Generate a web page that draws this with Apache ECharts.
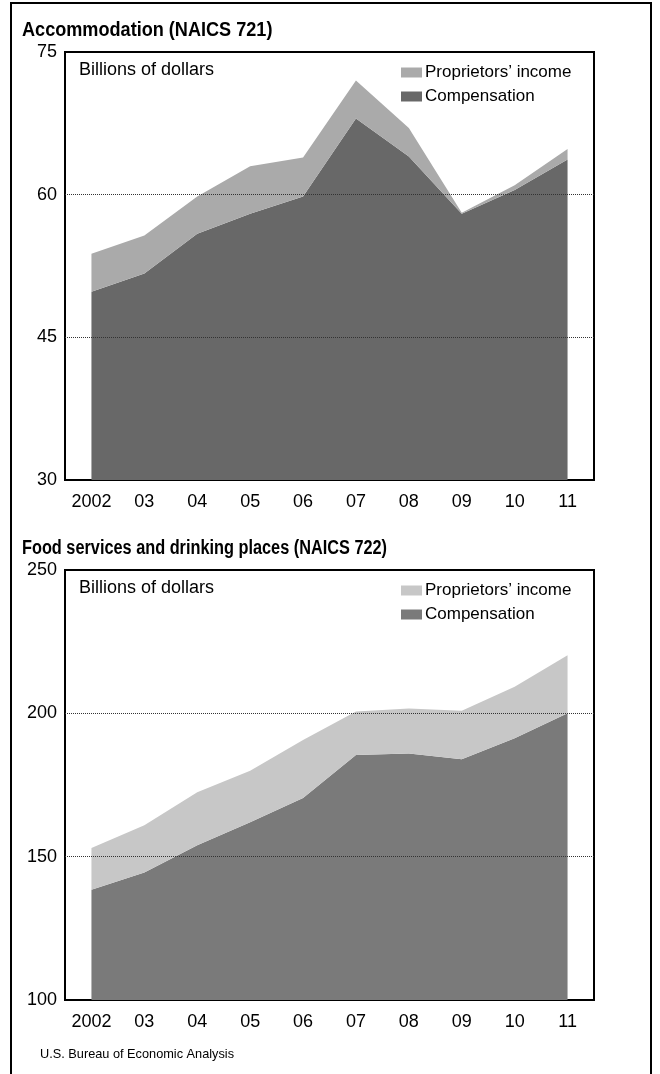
<!DOCTYPE html>
<html>
<head>
<meta charset="utf-8">
<script src="https://cdn.jsdelivr.net/npm/echarts@6/dist/echarts.min.js"></script>
<style>
  html, body { margin: 0; padding: 0; background: #ffffff; }
  #chart { width: 660px; height: 1074px; }
</style>
</head>
<body>
<div id="chart"></div>
<script>
// Years on the horizontal axis (shared by both panels)
const years = ['2002', '03', '04', '05', '06', '07', '08', '09', '10', '11'];

// Accommodation (NAICS 721), billions of dollars
const accomCompensation = [49.8, 51.7, 55.9, 58.0, 59.8, 68.0, 64.0, 58.0, 60.5, 63.7];
const accomProprietors  = [4.0, 4.0, 3.9, 5.0, 4.1, 4.0, 3.0, 0.1, 0.5, 1.1];
const accomTicks = [30, 45, 60, 75];

// Food services and drinking places (NAICS 722), billions of dollars
const foodCompensation = [138.5, 144.5, 154.0, 162.0, 170.5, 185.5, 186.0, 184.0, 191.3, 200.0];
const foodProprietors  = [14.5, 16.5, 18.5, 18.0, 20.2, 15.1, 15.7, 16.9, 18.0, 20.3];
const foodTicks = [100, 150, 200, 250];

const FONT = "'Liberation Sans', Arial, Helvetica, sans-serif";

const panels = [
  { top: 52, height: 428, comp: accomCompensation, prop: accomProprietors, ticks: accomTicks,
    compColor: '#686868', propColor: '#aaaaaa' },
  { top: 570, height: 430, comp: foodCompensation, prop: foodProprietors, ticks: foodTicks,
    compColor: '#7a7a7a', propColor: '#c7c7c7' }
];

const grid = [], xAxis = [], yAxis = [], series = [], legend = [];

panels.forEach((p, i) => {
  grid.push({
    left: 65, right: 66, top: p.top, height: p.height,
    show: true, borderColor: '#000', borderWidth: 2, backgroundColor: 'transparent'
  });
  xAxis.push({
    type: 'category', gridIndex: i, data: years, boundaryGap: true,
    axisLine: { show: true, lineStyle: { color: '#000', width: 2 } },
    axisTick: { show: true, inside: true, length: 18, lineStyle: { color: '#000', width: 2 } },
    axisLabel: { color: '#000', fontSize: 18, fontFamily: FONT, margin: 13 },
    splitLine: { show: false }
  });
  const lo = p.ticks[0], hi = p.ticks[p.ticks.length - 1];
  yAxis.push({
    type: 'value', gridIndex: i, min: lo, max: hi, interval: p.ticks[1] - p.ticks[0],
    axisLine: { show: false }, axisTick: { show: false },
    axisLabel: { color: '#000', fontSize: 18, fontFamily: FONT, margin: 8 },
    splitLine: { show: false }
  });
  series.push({
    name: 'Compensation', type: 'line', xAxisIndex: i, yAxisIndex: i, stack: 'p' + i,
    data: p.comp, symbol: 'none', lineStyle: { width: 0 },
    areaStyle: { color: p.compColor, opacity: 1 }, silent: true, animation: false
  });
  series.push({
    name: 'Proprietors\u2019 income', type: 'line', xAxisIndex: i, yAxisIndex: i, stack: 'p' + i,
    data: p.prop, symbol: 'none', lineStyle: { width: 0 },
    areaStyle: { color: p.propColor, opacity: 1 }, silent: true, animation: false,
    markLine: {
      silent: true, symbol: 'none', animation: false,
      label: { show: false },
      lineStyle: { type: 'dotted', color: '#333', width: 1 },
      data: p.ticks.slice(1, -1).map(v => ({ yAxis: v }))
    }
  });
  legend.push({
    orient: 'vertical', left: 396, top: p.top + 7,
    itemWidth: 21, itemHeight: 10, itemGap: 7, icon: 'rect',
    selectedMode: false,
    textStyle: { color: '#000', fontSize: 17, fontFamily: FONT, padding: [0, 0, 0, -2] },
    data: [
      { name: 'Proprietors\u2019 income', itemStyle: { color: p.propColor } },
      { name: 'Compensation', itemStyle: { color: p.compColor } }
    ]
  });
});

// Panel headings and notes, set in a condensed cut
function label(text, x, y, size, weight, sx) {
  return {
    type: 'text', x: x, y: y, scaleX: sx, silent: true,
    style: { text: text, fill: '#000', fontSize: size, fontWeight: weight,
             fontFamily: FONT, verticalAlign: 'middle', align: 'left' }
  };
}

const option = {
  animation: false,
  backgroundColor: '#ffffff',
  graphic: [
    { type: 'rect', shape: { x: 11, y: 3, width: 640, height: 1090 },
      style: { fill: 'none', stroke: '#000', lineWidth: 2 }, silent: true },
    label('Accommodation (NAICS 721)', 22, 30, 20, 'bold', 0.905),
    label('Billions of dollars', 79, 70, 18, 'normal', 1.0),
    label('Food services and drinking places (NAICS 722)', 22, 548, 20, 'bold', 0.815),
    label('Billions of dollars', 79, 588, 18, 'normal', 1.0),
    label('U.S. Bureau of Economic Analysis', 40, 1054, 13, 'normal', 0.98)
  ],
  legend, grid, xAxis, yAxis, series
};

const chart = echarts.init(document.getElementById('chart'), null, { renderer: 'canvas' });
chart.setOption(option);
</script>
</body>
</html>
